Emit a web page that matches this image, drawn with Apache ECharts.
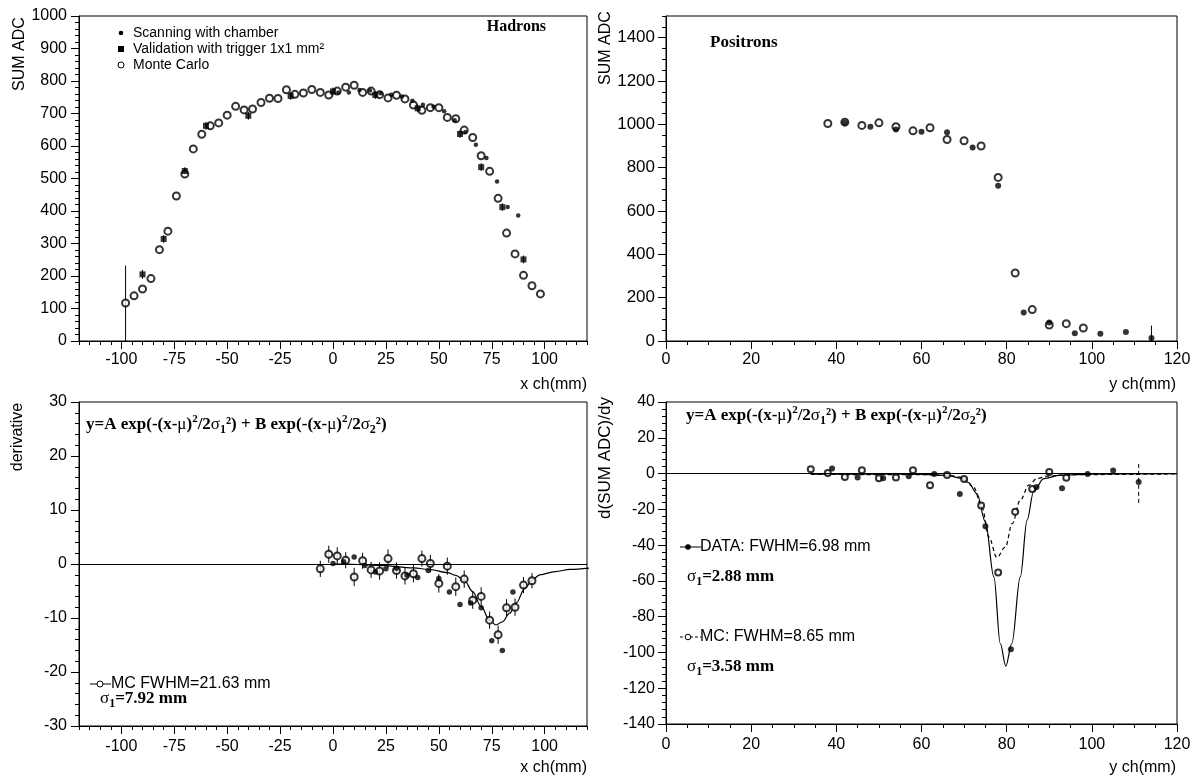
<!DOCTYPE html>
<html><head><meta charset="utf-8">
<script src="https://cdn.jsdelivr.net/npm/echarts@6/dist/echarts.min.js"></script>
<style>html,body{margin:0;padding:0;background:#fff}#c{width:1194px;height:780px}</style>
</head><body><div id="c"></div>
<script>
// ---------- tick labels ----------
const hadXTicks = [-100,-75,-50,-25,0,25,50,75,100];
const hadYTicks = [0,100,200,300,400,500,600,700,800,900,1000];
const posXTicks = [0,20,40,60,80,100,120];
const posYTicks = [0,200,400,600,800,1000,1200,1400];
const derYTicks = [-30,-20,-10,0,10,20,30];
const dposYTicks = [-140,-120,-100,-80,-60,-40,-20,0,20,40];

// ---------- Hadrons: SUM ADC vs x ----------
const scanX = [2.5,7.5,12.5,17.5,22.5,27.5,32.5,37.5,42.5,47.5,52.5,57.5,62.5,67.5,72.5,77.5,82.5,87.5];
const scanY = [765,765,772,771,762,758,752,739,727,721,707,679,643,604,563,491,412,386];
const validX = [-90,-80,-70,-60,-40,-20,0,20,40,60,70,80,90];
const validY = [205,314,523,662,693,754,768,757,716,637,535,412,251];
const validErr = [14,12,12,12,12,12,12,12,12,12,12,12,12];
const mcHadX = [-98,-94,-90,-86,-82,-78,-74,-70,-66,-62,-58,-54,-50,-46,-42,-38,-34,-30,-26,-22,-18,-14,-10,-6,-2,2,6,10,14,18,22,26,30,34,38,42,46,50,54,58,62,66,70,74,78,82,86,90,94,98];
const mcHadY = [117,139,160,192,281,338,446,514,591,636,662,671,695,722,711,714,734,747,746,773,759,763,774,765,757,769,781,787,765,769,758,748,756,745,726,710,718,718,688,684,649,626,570,522,439,332,268,202,170,145];
const mcHadBarX = [-98];
const mcHadBarLo = [0];
const mcHadBarHi = [232];

// ---------- Positrons: SUM ADC vs y ----------
const posDataX = [42,48,54,60,66,72,78,84,90,96,102,108,114];
const posDataY = [1007,989,976,966,963,893,716,131,85,36,34,42,14];
const posBarX = [114];
const posBarLo = [0];
const posBarHi = [71];
const posMcX = [38,42,46,50,54,58,62,66,70,74,78,82,86,90,94,98];
const posMcY = [1004,1010,995,1007,989,970,984,930,924,900,755,314,145,74,80,60];

// ---------- Hadrons derivative ----------
const derDataX = [0,5,10,15,20,25,30,35,40,45,50,55,60,65,70,75,80,85];
const derDataY = [0.1,0.4,1.3,-0.3,-1.5,-0.9,-0.8,-2.1,-2.5,-1.2,-2.7,-5.2,-7.5,-7.2,-8.1,-14.2,-16.0,-5.2];
const derMcX = [-6,-2,2,6,10,14,18,22,26,30,34,38,42,46,50,54,58,62,66,70,74,78,82,86,90,94];
const derMcY = [-0.9,1.8,1.5,0.7,-2.4,0.6,-1.1,-1.3,1.0,-1.2,-2.2,-1.8,1.0,0.1,-3.6,-0.4,-4.2,-2.8,-6.7,-6.0,-10.4,-13.1,-8.1,-8.0,-3.9,-3.1];
const derMcErr = [1.5,1.6,1.6,1.5,1.7,1.5,1.5,1.6,1.7,1.5,1.6,1.6,1.5,1.6,1.7,1.6,1.7,1.6,1.6,1.7,1.6,1.7,1.6,1.6,1.5,1.4];
const derFitX = [0,6,22,38,46,54,58,62,66,70,74,77,80,83.5,86.6,90.6,94.5,97.7,105,112,121];
const derFitY = [0,0,-0.25,-0.7,-1.05,-1.6,-2.1,-3.0,-5.1,-7.9,-10.4,-11.3,-10.7,-9.1,-7.2,-4.5,-2.8,-2.0,-1.4,-1.0,-0.75];

// ---------- Positrons derivative ----------
const dposDataX = [39,45,51,57,63,69,75,81,87,93,99,105,111];
const dposDataY = [2.8,-2.2,-2.6,-1.5,-0.2,-11.4,-29.4,-98.2,-7.5,-8.2,-0.2,1.7,-4.7];
const dposBarX = [111];
const dposBarLo = [-16.4];
const dposBarHi = [6.1];
const dposMcX = [34,38,42,46,50,54,58,62,66,70,74,78,82,86,90,94];
const dposMcY = [2.4,0.3,-1.9,1.8,-2.6,-2.2,1.8,-6.5,-0.8,-3.0,-17.9,-55.3,-21.4,-8.6,0.9,-2.4];
const dposFitDataX = [34,50,60,66,69,71,73,75,77,78.5,79.8,81.2,83.2,84.8,86.3,88.7,92.6,100,120];
const dposFitDataY = [-0.3,-0.3,-0.5,-1.0,-2.5,-5.0,-11.2,-27,-57.8,-95,-107.6,-95,-57.8,-26,-10.3,-2.8,-0.9,-0.3,0];
const dposFitMcX = [34,60,66,69.9,72.2,74.2,75.8,77.7,79.7,81.3,83.2,85.2,87.1,89.4,95,120];
const dposFitMcY = [-0.5,-0.6,-1.0,-2.2,-7.5,-18.7,-35.4,-46.9,-41,-28,-14.9,-6.5,-2.8,-1.5,-0.6,-0.2];

// ---------- layout ----------
const SANS = 'Liberation Sans, Arial, sans-serif';
const SERIF = 'Liberation Serif, Times New Roman, serif';
const grids = [
  {left:79, top:16, width:508, height:325},
  {left:666, top:16, width:511, height:325},
  {left:79, top:402, width:508, height:324},
  {left:666, top:402, width:511, height:322}
].map(g => Object.assign({show:true, borderColor:'#000', borderWidth:1, backgroundColor:'transparent', containLabel:false, outerBoundsMode:'none'}, g));

function minorList(min, max, step, majors){
  const out=[];
  for(let v=min; v<=max+1e-9; v+=step){
    const r=Math.round(v*1000)/1000;
    if(!majors.includes(r)) out.push(r);
  }
  return out;
}
function axisPair(dim, gi, min, max, majors, step, fs, margin){
  const main = {
    type:'value', gridIndex:gi, min:min, max:max, position: dim==='x'?'bottom':'left',
    axisLine:{show:true, onZero:false, lineStyle:{color:'#000', width:1}},
    axisTick:{show:true, inside:false, length:8, customValues:majors, lineStyle:{color:'#000', width:1}},
    axisLabel:{show:true, customValues:majors, color:'#000', fontFamily:SANS, fontSize:fs, margin:margin,
      formatter: function(v){ return String(v); }},
    splitLine:{show:false}
  };
  const minor = {
    type:'value', gridIndex:gi, min:min, max:max, position: dim==='x'?'bottom':'left',
    axisLine:{show:false, onZero:false},
    axisTick:{show:true, inside:false, length:4, customValues:minorList(min,max,step,majors), lineStyle:{color:'#000', width:1}},
    axisLabel:{show:false}, splitLine:{show:false}
  };
  return [main, minor];
}
const xAxes = [].concat(
  axisPair('x',0,-120,120,hadXTicks,5,16,11),
  axisPair('x',1,0,120,posXTicks,5,16,11),
  axisPair('x',2,-120,120,hadXTicks,5,16,13),
  axisPair('x',3,0,120,posXTicks,5,16,13)
);
const yAxes = [].concat(
  axisPair('y',0,0,1000,hadYTicks,20,16,12),
  axisPair('y',1,0,1500,posYTicks,50,17,11),
  axisPair('y',2,-30,30,derYTicks,2,16,12),
  axisPair('y',3,-140,40,dposYTicks,4,16,11)
);

function zip(xs, ys){ return xs.map((x,i)=>[x, ys[i]]); }
function errRender(dash){
  return function(params, api){
    const p1 = api.coord([api.value(0), api.value(1)]);
    const p2 = api.coord([api.value(0), api.value(2)]);
    return {type:'line', shape:{x1:p1[0], y1:p1[1], x2:p2[0], y2:p2[1]},
      style:{stroke:'#000', lineWidth:1, lineDash: dash ? [4,3] : null}};
  };
}
function errSeries(p, data, dash){
  return {type:'custom', xAxisIndex:2*p, yAxisIndex:2*p, renderItem:errRender(dash), data:data,
    encode:{x:0, y:[1,2]}, z:1, silent:true, clip:true};
}
function scat(p, data, symbol, size, z){
  return {type:'scatter', xAxisIndex:2*p, yAxisIndex:2*p, data:data, symbol:symbol, symbolSize:size,
    itemStyle:{color:'#000', borderColor:'#000', borderWidth: symbol==='emptyCircle'?1:0}, z:z||3, silent:true};
}
function curve(p, data, dashed, withZero){
  const s = {type:'line', xAxisIndex:2*p, yAxisIndex:2*p, data:data, smooth:0.35, smoothMonotone:'x',
    showSymbol:false, symbol:'none', lineStyle:{color:'#000', width:1.2, type: dashed ? [4,3] : 'solid'}, z:2, silent:true, clip:true};
  if(withZero){
    s.markLine = {silent:true, symbol:'none', label:{show:false}, animation:false,
      lineStyle:{color:'#000', type:'solid', width:1}, data:[{yAxis:0}]};
  }
  return s;
}

const series = [
  // hadrons
  errSeries(0, validX.map((x,i)=>[x, validY[i]-validErr[i], validY[i]+validErr[i]])),
  errSeries(0, mcHadBarX.map((x,i)=>[x, mcHadBarLo[i], mcHadBarHi[i]])),
  scat(0, zip(mcHadX, mcHadY), 'emptyCircle', 7, 3),
  scat(0, zip(validX, validY), 'rect', 6, 4),
  scat(0, zip(scanX, scanY), 'circle', 4.5, 5),
  // positrons
  errSeries(1, posBarX.map((x,i)=>[x, posBarLo[i], posBarHi[i]])),
  scat(1, zip(posMcX, posMcY), 'emptyCircle', 7, 3),
  scat(1, zip(posDataX, posDataY), 'circle', 6, 4),
  // hadrons derivative
  curve(2, zip(derFitX, derFitY), false, true),
  errSeries(2, derMcX.map((x,i)=>[x, derMcY[i]-derMcErr[i], derMcY[i]+derMcErr[i]])),
  scat(2, zip(derDataX, derDataY), 'circle', 5.5, 4),
  scat(2, zip(derMcX, derMcY), 'emptyCircle', 7, 3),
  // positrons derivative
  curve(3, zip(dposFitDataX, dposFitDataY), false, true),
  curve(3, zip(dposFitMcX, dposFitMcY), true, false),
  errSeries(3, dposBarX.map((x,i)=>[x, dposBarLo[i], dposBarHi[i]]), true),
  scat(3, zip(dposMcX, dposMcY), 'emptyCircle', 6, 3),
  scat(3, zip(dposDataX, dposDataY), 'circle', 6, 4)
];

// ---------- text / legends ----------
function txt(x, y, text, opt){
  return Object.assign({type:'text', x:x, y:y, z:100, silent:true,
    style:Object.assign({text:text, fill:'#000', font:'16px '+SANS, align:'left', verticalAlign:'middle'}, (opt&&opt.style)||{})},
    opt && opt.rotation!==undefined ? {rotation:opt.rotation} : {});
}
const boldSerif = {fontFamily:SERIF, fontWeight:'bold', fontSize:17, lineHeight:22, verticalAlign:'middle'};
const greek = {fontFamily:SERIF, fontWeight:'normal', fontSize:17, lineHeight:22, verticalAlign:'middle'};
const supS = {fontFamily:SERIF, fontWeight:'bold', fontSize:11, lineHeight:22, verticalAlign:'top'};
const subS = {fontFamily:SERIF, fontWeight:'bold', fontSize:12, lineHeight:22, verticalAlign:'bottom'};
const richSet = {m:boldSerif, g:greek, sup:supS, sub:subS};
const formula = '{m|y=A exp(-(x-}{g|μ}{m|)}{sup|2}{m|/2}{g|σ}{sub|1}{m|²) + B exp(-(x-}{g|μ}{m|)}{sup|2}{m|/2}{g|σ}{sub|2}{m|²)}';
function richText(x, y, text){
  return {type:'text', x:x, y:y, z:100, silent:true,
    style:{text:text, rich:richSet, fill:'#000', align:'left', verticalAlign:'middle', font:'bold 17px '+SERIF}};
}

const graphics = [
  // axis titles
  txt(20, 54, 'SUM ADC', {rotation:Math.PI/2, style:{align:'center', font:'16px '+SANS}}),
  txt(606, 48, 'SUM ADC', {rotation:Math.PI/2, style:{align:'center', font:'16px '+SANS}}),
  txt(18, 437, 'derivative', {rotation:Math.PI/2, style:{align:'center', font:'16px '+SANS}}),
  txt(605, 458, 'd(SUM ADC)/dy', {rotation:Math.PI/2, style:{align:'center', font:'17px '+SANS}}),
  txt(587, 385, 'x ch(mm)', {style:{align:'right'}}),
  txt(1176, 385, 'y ch(mm)', {style:{align:'right'}}),
  txt(587, 768, 'x ch(mm)', {style:{align:'right'}}),
  txt(1176, 768, 'y ch(mm)', {style:{align:'right'}}),
  // panel labels
  txt(546, 27, 'Hadrons', {style:{align:'right', font:'bold 16px '+SERIF}}),
  txt(710, 43, 'Positrons', {style:{font:'bold 17px '+SERIF}}),
  // top-left legend
  {type:'circle', shape:{cx:121, cy:33, r:2.3}, style:{fill:'#000'}, silent:true, z:100},
  {type:'rect', shape:{x:118, y:46, width:6, height:6}, style:{fill:'#000'}, silent:true, z:100},
  {type:'circle', shape:{cx:121, cy:65, r:3}, style:{fill:'#fff', stroke:'#000', lineWidth:1}, silent:true, z:100},
  txt(133, 33, 'Scanning with chamber', {style:{font:'14px '+SANS}}),
  txt(133, 49, 'Validation with trigger 1x1 mm²', {style:{font:'14px '+SANS}}),
  txt(133, 65, 'Monte Carlo', {style:{font:'14px '+SANS}}),
  // formulas
  richText(86, 425, formula),
  richText(686, 416, formula),
  // bottom-left legend
  {type:'line', shape:{x1:90, y1:684, x2:111, y2:684}, style:{stroke:'#000', lineWidth:1}, silent:true, z:100},
  {type:'circle', shape:{cx:100, cy:684, r:3}, style:{fill:'#fff', stroke:'#000', lineWidth:1}, silent:true, z:101},
  txt(111, 684, 'MC FWHM=21.63 mm'),
  richText(100, 699, '{g|σ}{sub|1}{m|=7.92 mm}'),
  // bottom-right legend
  {type:'line', shape:{x1:680, y1:547, x2:701, y2:547}, style:{stroke:'#000', lineWidth:1}, silent:true, z:100},
  {type:'circle', shape:{cx:688, cy:547, r:2.8}, style:{fill:'#000'}, silent:true, z:101},
  txt(700, 547, 'DATA: FWHM=6.98 mm'),
  richText(687, 577, '{g|σ}{sub|1}{m|=2.88 mm}'),
  {type:'line', shape:{x1:680, y1:637, x2:701, y2:637}, style:{stroke:'#000', lineWidth:1, lineDash:[3,2]}, silent:true, z:100},
  {type:'circle', shape:{cx:688, cy:637, r:2.8}, style:{fill:'#fff', stroke:'#000', lineWidth:1}, silent:true, z:101},
  txt(700, 637, 'MC: FWHM=8.65 mm'),
  richText(687, 667, '{g|σ}{sub|1}{m|=3.58 mm}')
];

const chart = echarts.init(document.getElementById('c'), null, {renderer:'canvas'});
chart.setOption({
  animation:false,
  backgroundColor:'#fff',
  grid:grids,
  xAxis:xAxes,
  yAxis:yAxes,
  series:series,
  graphic:graphics
});
</script></body></html>
